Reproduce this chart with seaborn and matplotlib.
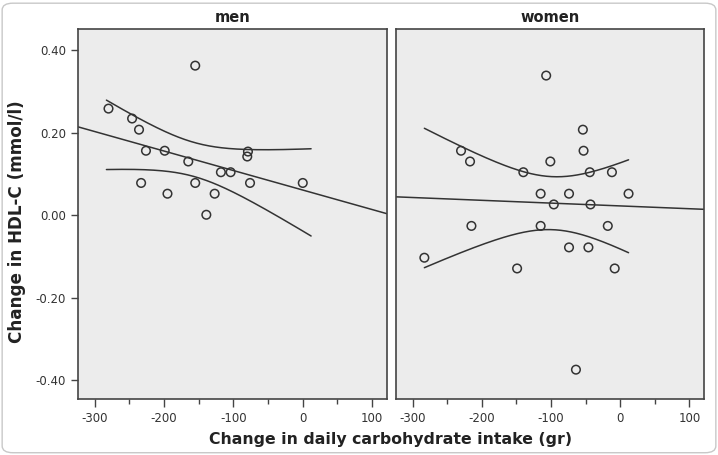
import numpy as np
import pandas as pd
import matplotlib
matplotlib.use("Agg")
import matplotlib.pyplot as plt
import seaborn as sns
from matplotlib.patches import FancyBboxPatch
from matplotlib.ticker import FormatStrFormatter, MultipleLocator

# =============================
# DATOS
# =============================
men_carb = [-280, -246, -236, -226, -233, -199, -195, -165, -155, -155,
            -139, -127, -118, -104, -79, -80, -76, 0]
men_hdl = [0.258, 0.234, 0.207, 0.156, 0.078, 0.156, 0.052, 0.130, 0.362, 0.078,
           0.001, 0.052, 0.104, 0.104, 0.154, 0.142, 0.078, 0.078]

women_carb = [-107, -54, -230, -53, -217, -101, -140, -44, -12, -115, -74, 12,
              -96, -43, -215, -115, -18, -74, -46, -283, -149, -8, -64]
women_hdl = [0.338, 0.207, 0.156, 0.156, 0.130, 0.130, 0.104, 0.104, 0.104, 0.052,
             0.052, 0.052, 0.026, 0.026, -0.026, -0.026, -0.026, -0.078, -0.078,
             -0.103, -0.129, -0.129, -0.374]

panels = ["men", "women"]
x_ticks = [-300, -200, -100, 0, 100]
y_ticks = [-0.40, -0.20, 0.00, 0.20, 0.40]

# valores t (95%, dos colas) según grados de libertad
T_CRIT = {16: 2.120, 21: 2.080}

df = pd.concat([
    pd.DataFrame({"sex": "men", "carb": men_carb, "hdl": men_hdl}),
    pd.DataFrame({"sex": "women", "carb": women_carb, "hdl": women_hdl}),
], ignore_index=True)

# =============================
# ESTILO
# =============================
sns.set_style("ticks", {"axes.facecolor": "#ECECEC", "axes.edgecolor": "#444444"})
plt.rcParams["font.family"] = ["DejaVu Sans"]
plt.rcParams["axes.unicode_minus"] = False

fig = plt.figure(figsize=(7.18, 4.55), dpi=100)
ax_men = fig.add_axes([0.1086, 0.1231, 0.4300, 0.8125])
ax_wom = fig.add_axes([0.5515, 0.1231, 0.4290, 0.8125])

# rango común de las bandas de confianza
x_band = np.linspace(df["carb"].min(), df["carb"].max(), 200)

for ax, sex in zip([ax_men, ax_wom], panels):
    sub = df[df["sex"] == sex]
    ax.set_xlim(-324, 121)
    ax.set_ylim(-0.445, 0.45)

    sns.scatterplot(data=sub, x="carb", y="hdl", ax=ax, marker="o", s=38,
                    facecolor="none", edgecolor="#333333", linewidth=1.1, zorder=3)
    sns.regplot(data=sub, x="carb", y="hdl", ax=ax, scatter=False, ci=None,
                truncate=False, line_kws={"color": "#333333", "linewidth": 1.1})

    # intervalo de confianza de la media (líneas)
    x = sub["carb"].to_numpy(float)
    y = sub["hdl"].to_numpy(float)
    n = len(x)
    b, a = np.polyfit(x, y, 1)
    resid = y - (a + b * x)
    s = np.sqrt(np.sum(resid ** 2) / (n - 2))
    sxx = np.sum((x - x.mean()) ** 2)
    half = T_CRIT[n - 2] * s * np.sqrt(1 / n + (x_band - x.mean()) ** 2 / sxx)
    fit = a + b * x_band
    ax.plot(x_band, fit + half, color="#333333", linewidth=1.1)
    ax.plot(x_band, fit - half, color="#333333", linewidth=1.1)

    ax.set_title(sex, fontsize=10.5, fontweight="bold", color="#222222", pad=5)
    ax.set_xticks(x_ticks)
    ax.xaxis.set_minor_locator(MultipleLocator(50))
    ax.tick_params(axis="x", which="major", length=6, width=1, color="#444444",
                   labelsize=8.5, labelcolor="#333333")
    ax.tick_params(axis="x", which="minor", length=3.5, width=1, color="#444444")
    ax.set_xlabel("")
    ax.set_ylabel("")
    for sp in ax.spines.values():
        sp.set_visible(True)
        sp.set_linewidth(1.2)
        sp.set_color("#444444")

ax_men.set_yticks(y_ticks)
ax_men.yaxis.set_major_formatter(FormatStrFormatter("%.2f"))
ax_men.tick_params(axis="y", length=5, width=1, color="#444444",
                   labelsize=8.5, labelcolor="#333333")
ax_wom.set_yticks([])

fig.text(0.5446, 0.033, "Change in daily carbohydrate intake (gr)", ha="center",
         va="center", fontsize=11.3, fontweight="bold", color="#222222")
fig.text(0.024, 0.514, "Change in HDL-C (mmol/l)", ha="center", va="center",
         rotation=90, fontsize=12.1, fontweight="bold", color="#222222")

# marco exterior redondeado
fig.patches.append(FancyBboxPatch((0.003, 0.005), 0.994, 0.988,
                                  boxstyle="round,pad=0,rounding_size=0.015",
                                  transform=fig.transFigure, facecolor="none",
                                  edgecolor="#C8C8C8", linewidth=1.0))

fig.savefig("out.png", dpi=100)
